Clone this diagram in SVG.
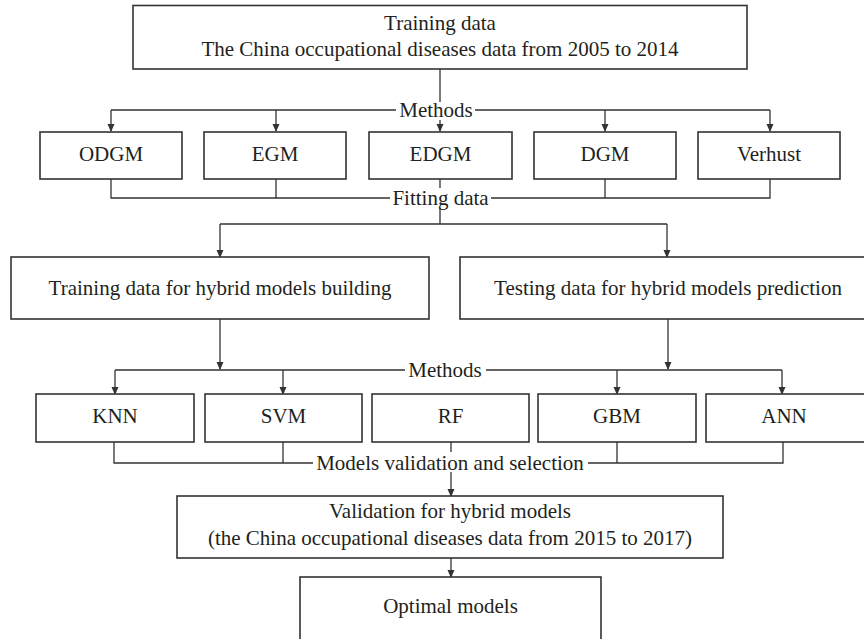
<svg xmlns="http://www.w3.org/2000/svg" width="864" height="639" viewBox="0 0 864 639">
<style>
.box{fill:#fff;stroke:#333;stroke-width:1.6}
.ln{fill:none;stroke:#333;stroke-width:1.3}
.ar{fill:none;stroke:#333;stroke-width:1.3;marker-end:url(#ah)}
text{font-family:"Liberation Serif","Times New Roman",serif;font-size:21px;fill:#231f20;text-anchor:middle}
</style>
<defs>
<marker id="ah" markerWidth="8" markerHeight="10" refX="7" refY="5" orient="auto" markerUnits="userSpaceOnUse" viewBox="0 0 8 10">
<path d="M0,1.5 L8,5 L0,8.5 Z" fill="#333"/>
</marker>
</defs>
<rect width="864" height="639" fill="#fff"/>
<g id="connectors">
<path class="ln" d="M440,69 V102"/>
<path class="ln" d="M396,110 H111 M475,110 H770"/>
<path class="ar" d="M111,110 V131"/>
<path class="ar" d="M276,110 V131"/>
<path class="ar" d="M440,120 V131"/>
<path class="ar" d="M605,110 V131"/>
<path class="ar" d="M770,110 V131"/>
<path class="ln" d="M111,179 V198 H390 M491,198 H770 V179 M276,179 V198 M605,179 V198 M440,179 V188"/>
<path class="ln" d="M440,208 V224 H220 M440,224 H667"/>
<path class="ar" d="M220,224 V257"/>
<path class="ar" d="M667,224 V257"/>
<path class="ar" d="M220,319 V369"/>
<path class="ar" d="M668,319 V369"/>
<path class="ln" d="M405,370 H115 M486,370 H782"/>
<path class="ar" d="M115,370 V394"/>
<path class="ar" d="M283,370 V394"/>
<path class="ar" d="M617,370 V394"/>
<path class="ar" d="M782,370 V394"/>
<path class="ln" d="M114,442 V463 H313 M588,463 H783 V442 M283,442 V463 M617,442 V463 M451,442 V452"/>
<path class="ar" d="M451,472 V496"/>
<path class="ar" d="M451,558 V577"/>
<text x="436" y="117">Methods</text>
<text x="440.5" y="205">Fitting data</text>
<text x="445" y="377">Methods</text>
<text x="450" y="470">Models validation and selection</text>
</g>
<g id="training-data">
<rect class="box" x="133" y="5.5" width="614" height="63.5"/>
<text x="440" y="30">Training data</text>
<text x="440" y="56">The China occupational diseases data from 2005 to 2014</text>
</g>
<g id="odgm"><rect class="box" x="40" y="132" width="142" height="47"/><text x="111" y="161">ODGM</text></g>
<g id="egm"><rect class="box" x="204" y="132" width="142" height="47"/><text x="275" y="161">EGM</text></g>
<g id="edgm"><rect class="box" x="369" y="132" width="143" height="47"/><text x="440.5" y="161">EDGM</text></g>
<g id="dgm"><rect class="box" x="534" y="132" width="142" height="47"/><text x="605" y="161">DGM</text></g>
<g id="verhust"><rect class="box" x="698" y="132" width="142" height="47"/><text x="769" y="161">Verhust</text></g>
<g id="training-hybrid"><rect class="box" x="11" y="257" width="418" height="62"/><text x="220" y="295">Training data for hybrid models building</text></g>
<g id="testing-hybrid"><rect class="box" x="460" y="257" width="416" height="62"/><text x="668" y="295">Testing data for hybrid models prediction</text></g>
<g id="knn"><rect class="box" x="36" y="394" width="158" height="48"/><text x="115" y="423">KNN</text></g>
<g id="svm"><rect class="box" x="205" y="394" width="157" height="48"/><text x="283.5" y="423">SVM</text></g>
<g id="rf"><rect class="box" x="372" y="394" width="157" height="48"/><text x="450.5" y="423">RF</text></g>
<g id="gbm"><rect class="box" x="538" y="394" width="158" height="48"/><text x="617" y="423">GBM</text></g>
<g id="ann"><rect class="box" x="706" y="394" width="170" height="48"/><text x="784" y="423">ANN</text></g>
<g id="validation"><rect class="box" x="177" y="496" width="546" height="62"/><text x="450" y="518">Validation for hybrid models</text><text x="450" y="545">(the China occupational diseases data from 2015 to 2017)</text></g>
<g id="optimal"><rect class="box" x="300" y="577" width="301" height="64"/><text x="450.5" y="613">Optimal models</text></g>
</svg>
